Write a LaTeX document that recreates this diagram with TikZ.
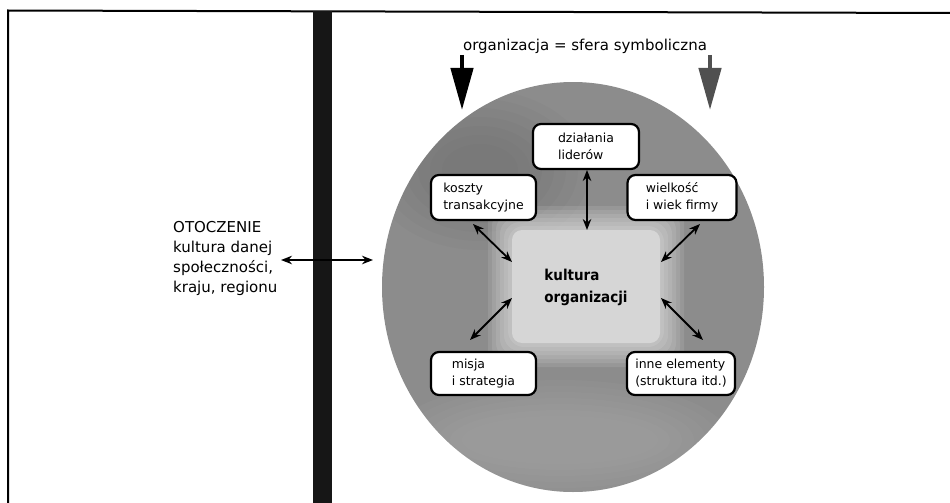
\documentclass[tikz,border=0pt]{standalone}
\usepackage{fontspec}
\setmainfont{DejaVu Sans}
\newfontfamily\corefont{DejaVu Sans Condensed}
\usetikzlibrary{arrows.meta}

\definecolor{sphere}{RGB}{140,140,140}
\definecolor{sphereLight}{RGB}{175,175,175}
\definecolor{coreFill}{RGB}{214,214,214}
\definecolor{barFill}{RGB}{22,22,22}
\definecolor{greyArrow}{RGB}{80,80,80}

\tikzset{
  frameline/.style={line width=2pt, black},
  factor/.style={draw, line width=2.2pt, rounded corners=8pt, fill=white,
    minimum height=45pt, align=left, inner sep=0pt,
    font=\fontsize{12.5}{17}\selectfont},
  link/.style={line width=1.8pt,
    {Stealth[length=11pt,width=8.5pt]}-{Stealth[length=11pt,width=8.5pt]}},
  bigdown/.style={line width=4.5pt, -{Triangle[length=42pt,width=22pt]}},
  plain/.style={font=\fontsize{15}{20}\selectfont, align=left, inner sep=0pt},
}

\begin{document}
\begin{tikzpicture}[x=1pt,y=-1pt]
  \useasboundingbox (0,0) rectangle (950,503);
  \fill[white] (0,0) rectangle (950,503);

  % outer frame (open at right and bottom)
  \draw[frameline] (950,13) -- (8,10.5) -- (8,503);

  % dividing wall between environment and organisation
  \fill[barFill] (313,11) rectangle (332,503);

  % symbolic sphere of the organisation
  \fill[sphere] (573,287) ellipse [x radius=191, y radius=205];
  \begin{scope}
    \clip (573,287) ellipse [x radius=191, y radius=205];
    \foreach \r in {0,6,...,36} {
      \fill[sphereLight, opacity=0.09]
        (560,440) ellipse [x radius=170-\r*2, y radius=60-\r];
      \fill[black, opacity=0.015]
        (480,170) ellipse [x radius=110-\r*2, y radius=80-\r*1.5];
    }
  \end{scope}

  % soft light core
  \foreach \g in {24,20,...,4} {
    \fill[white, opacity=0.1, rounded corners=16pt]
      (512-\g,230-\g) rectangle (660+\g,343+\g);
  }
  \node[fill=coreFill, rounded corners=10pt, minimum width=148pt,
        minimum height=113pt, inner sep=0pt] (core) at (586,286.5) {};
  \node[plain, font=\fontsize{15}{22}\selectfont\corefont\bfseries] (coretext) at (586,287)
    {kultura\\organizacji};

  % title and the two pointers into the sphere
  \node[plain] (title) at (585,46) {organizacja = sfera symboliczna};
  \coordinate (pl0) at (462,55);
  \coordinate (pl1) at (462,110);
  \coordinate (pr0) at (710,55);
  \coordinate (pr1) at (710,110);
  \draw[bigdown, black] (pl0) -- (pl1);
  \draw[bigdown, greyArrow] (pr0) -- (pr1);

  % factors shaping the organisational culture
  \node[factor, minimum width=106pt] (lead)  at (586,146.5) {działania\\liderów};
  \node[factor, minimum width=105pt] (cost)  at (483.5,197.5) {koszty\\transakcyjne};
  \node[factor, minimum width=109pt] (size)  at (682,197.5) {wielkość\\i wiek firmy};
  \node[factor, minimum width=105pt, minimum height=43pt] (miss)  at (483.5,373.5) {misja\\i strategia};
  \node[factor, minimum width=108pt, minimum height=43pt] (other) at (681,373.5) {inne elementy\\(struktura itd.)};

  % environment
  \node[plain, anchor=west] (env) at (173,258)
    {OTOCZENIE\\kultura danej\\społeczności,\\kraju, regionu};

  % connector end points
  \coordinate (a0) at (587,170);  \coordinate (a1) at (587,230);
  \coordinate (b0) at (473,224);  \coordinate (b1) at (512,262);
  \coordinate (c0) at (700,224);  \coordinate (c1) at (661,262);
  \coordinate (d0) at (470,340);  \coordinate (d1) at (512,298);
  \coordinate (e0) at (703,340);  \coordinate (e1) at (661,298);
  \coordinate (w0) at (281,260);  \coordinate (w1) at (373,260);

  \draw[link] (a0) -- (a1);
  \draw[link] (b0) -- (b1);
  \draw[link] (c0) -- (c1);
  \draw[link] (d0) -- (d1);
  \draw[link] (e0) -- (e1);
  \draw[link] (w0) -- (w1);
\end{tikzpicture}
\end{document}
